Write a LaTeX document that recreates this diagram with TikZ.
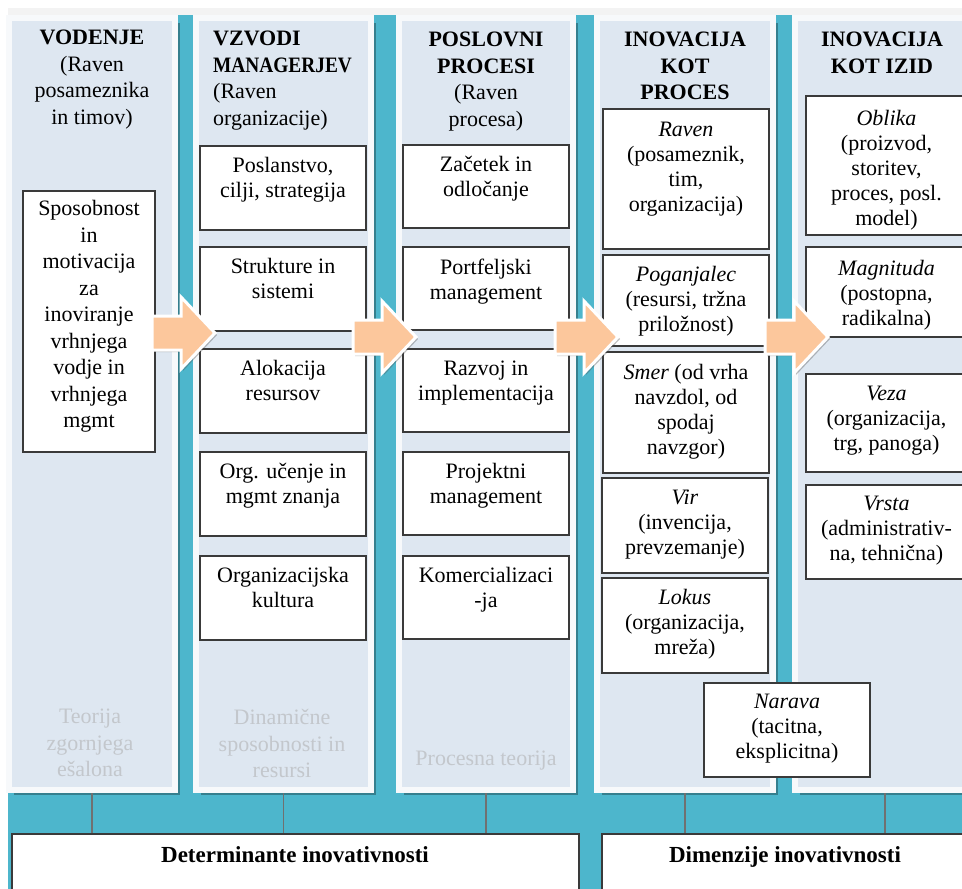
\documentclass[tikz,border=0pt]{standalone}
\usepackage{fontspec}
\setmainfont{Liberation Serif}
\usepackage{graphicx}
\usetikzlibrary{fit,shadows}

\definecolor{bandteal}{HTML}{4DB6CC}
\definecolor{panelblue}{HTML}{DEE7F1}
\definecolor{paneledge}{HTML}{F7F9FB}
\definecolor{frame}{HTML}{3A3A3A}
\definecolor{peach}{HTML}{FCC79C}
\definecolor{faint}{HTML}{C3C7CC}
\definecolor{stem}{HTML}{707070}
\definecolor{topgray}{HTML}{F3F3F3}

\begin{document}
\begin{tikzpicture}[x=1pt, y=-1pt,
    panel/.style={draw=paneledge, line width=6pt, fill=panelblue, inner sep=0pt,
      drop shadow={shadow xshift=4.5pt, shadow yshift=-4.5pt, opacity=0.3, fill=black}},
    itembox/.style={draw=frame, line width=1.3pt, fill=white, inner sep=0pt},
    itemtext/.style={anchor=north, align=flush center, inner sep=0pt, text width=170pt,
      font=\fontsize{22}{25}\selectfont},
    heading/.style={anchor=north, align=center, inner sep=0pt,
      font=\fontsize{22}{26.5}\selectfont},
    theory/.style={anchor=north, align=flush center, inner sep=0pt, text width=170pt,
      text=faint, font=\fontsize{22}{26.5}\selectfont},
    flowarrow/.style={draw=white, line width=3pt, line join=miter, fill=peach,
      drop shadow={shadow xshift=2pt, shadow yshift=-2pt, opacity=0.35, fill=black!70}},
    basebox/.style={draw=frame, line width=1.3pt, fill=white, inner sep=0pt},
    link/.style={draw=stem, line width=1.5pt}
  ]
  \useasboundingbox (0,0) rectangle (962,889);
  \fill[topgray] (8,8) rectangle (962,889);
  \fill[bandteal] (8,15) rectangle (962,889);

  % columns
  \foreach \n/\l/\r in {1/9/175, 2/196/371, 3/399/573, 4/597/773, 5/795/975}
    \node[panel, fit={(\l,18)(\r,790)}] (p\n) {};

  \node[heading] (h1) at (92,30) {\textbf{VODENJE}\\(Raven\\posameznika\\in timov)};
  \node[heading, anchor=north west, align=left] (h2) at (213,31)
    {\textbf{VZVODI}\\\textbf{\scalebox{0.88}[1]{MANAGERJEV}}\\(Raven\\organizacije)};
  \node[heading] (h3) at (486,32) {\textbf{POSLOVNI}\\\textbf{PROCESI}\\(Raven\\procesa)};
  \node[heading] (h4) at (685,32) {\textbf{INOVACIJA}\\\textbf{KOT}\\\textbf{PROCES}};
  \node[heading] (h5) at (882,32) {\textbf{INOVACIJA}\\\textbf{KOT IZID}};

  % vodenje
  \node[itembox, fit={(23,191)(155,452)}] (lead) {};
  \node[itemtext, font=\fontsize{22}{26.5}\selectfont] (leadtext) at ([yshift=-10pt]lead.north)
    {Sposobnost\\in\\motivacija\\za\\inoviranje\\vrhnjega\\vodje in\\vrhnjega\\mgmt};

  % vzvodi managerjev
  \foreach \n/\t/\txt in {1/146/{Poslanstvo,\\cilji, strategija}, 2/247/{Strukture in\\sistemi},
      3/349/{Alokacija\\resursov}, 4/452/{Org. učenje in\\mgmt znanja},
      5/556/{Organizacijska\\kultura}} {
    \node[itembox, fit={(200,\t)(366,\t+84)}] (lever\n) {};
    \node[itemtext] (levertext\n) at ([yshift=-12pt]lever\n.north) {\txt};
  }

  % poslovni procesi
  \foreach \n/\t/\txt in {1/145/{Začetek in\\odločanje}, 2/247/{Portfeljski\\management},
      3/349/{Razvoj in\\implementacija}, 4/452/{Projektni\\management},
      5/556/{Komercializaci\\-ja}} {
    \node[itembox, fit={(403,\t)(569,\t+83)}] (step\n) {};
    \node[itemtext] (steptext\n) at ([yshift=-12pt]step\n.north) {\txt};
  }

  % inovacija kot proces
  \node[itembox, fit={(603,109)(769,249)}] (level) {};
  \node[itemtext] (leveltext) at ([yshift=-14pt]level.north)
    {\textit{Raven}\\(posameznik,\\tim,\\organizacija)};
  \node[itembox, fit={(603,255)(769,346)}] (driver) {};
  \node[itemtext] (drivertext) at ([yshift=-12pt]driver.north)
    {\textit{Poganjalec}\\(resursi, tržna\\priložnost)};
  \node[itembox, fit={(603,352)(769,473)}] (direction) {};
  \node[itemtext] (directiontext) at ([yshift=-13pt]direction.north)
    {\textit{Smer} (od vrha\\navzdol, od\\spodaj\\navzgor)};
  \node[itembox, fit={(602,478)(768,573)}] (source) {};
  \node[itemtext] (sourcetext) at ([yshift=-12pt]source.north)
    {\textit{Vir}\\(invencija,\\prevzemanje)};
  \node[itembox, fit={(602,578)(768,673)}] (locus) {};
  \node[itemtext] (locustext) at ([yshift=-12pt]locus.north)
    {\textit{Lokus}\\(organizacija,\\mreža)};
  \node[itembox, fit={(704,683)(870,777)}] (nature) {};
  \node[itemtext] (naturetext) at ([yshift=-12pt]nature.north)
    {\textit{Narava}\\(tacitna,\\eksplicitna)};

  % inovacija kot izid
  \node[itembox, fit={(806,96)(967,235)}] (form) {};
  \node[itemtext] (formtext) at ([yshift=-15pt]form.north)
    {\textit{Oblika}\\(proizvod,\\storitev,\\proces, posl.\\model)};
  \node[itembox, fit={(806,247)(967,337)}] (size) {};
  \node[itemtext] (sizetext) at ([yshift=-14pt]size.north)
    {\textit{Magnituda}\\(postopna,\\radikalna)};
  \node[itembox, fit={(806,374)(967,472)}] (tie) {};
  \node[itemtext] (tietext) at ([yshift=-13pt]tie.north)
    {\textit{Veza}\\(organizacija,\\trg, panoga)};
  \node[itembox, fit={(806,485)(967,579)}] (kind) {};
  \node[itemtext] (kindtext) at ([yshift=-12pt]kind.north)
    {\textit{Vrsta}\\(administrativ-\\na, tehnična)};

  % theories
  \node[theory] (th1) at (90,709) {Teorija\\zgornjega\\ešalona};
  \node[theory] (th2) at (282,709) {Dinamične\\sposobnosti in\\resursi};
  \node[theory] (th3) at (486,751) {Procesna teorija};

  % bottom
  \node[basebox, fit={(12,834)(579,905)}] (det) {};
  \node[anchor=base, inner sep=0pt, font=\fontsize{23}{26}\selectfont\bfseries] (dettext)
    at (295,862) {Determinante inovativnosti};
  \node[basebox, fit={(602,834)(975,905)}] (dim) {};
  \node[anchor=base, inner sep=0pt, font=\fontsize{23}{26}\selectfont\bfseries] (dimtext)
    at (785,862) {Dimenzije inovativnosti};

  \foreach \n in {1,...,5}
    \draw[link] (p\n.south) -- (p\n.south |- det.north);

  % arrows
  \foreach \ax/\ay in {152/333, 353/337, 555/337, 765/337}
    \draw[flowarrow] (\ax,\ay-17) -- (\ax+29,\ay-17) -- (\ax+29,\ay-36) -- (\ax+63,\ay)
      -- (\ax+29,\ay+36) -- (\ax+29,\ay+17) -- (\ax,\ay+17) -- cycle;
\end{tikzpicture}
\end{document}
